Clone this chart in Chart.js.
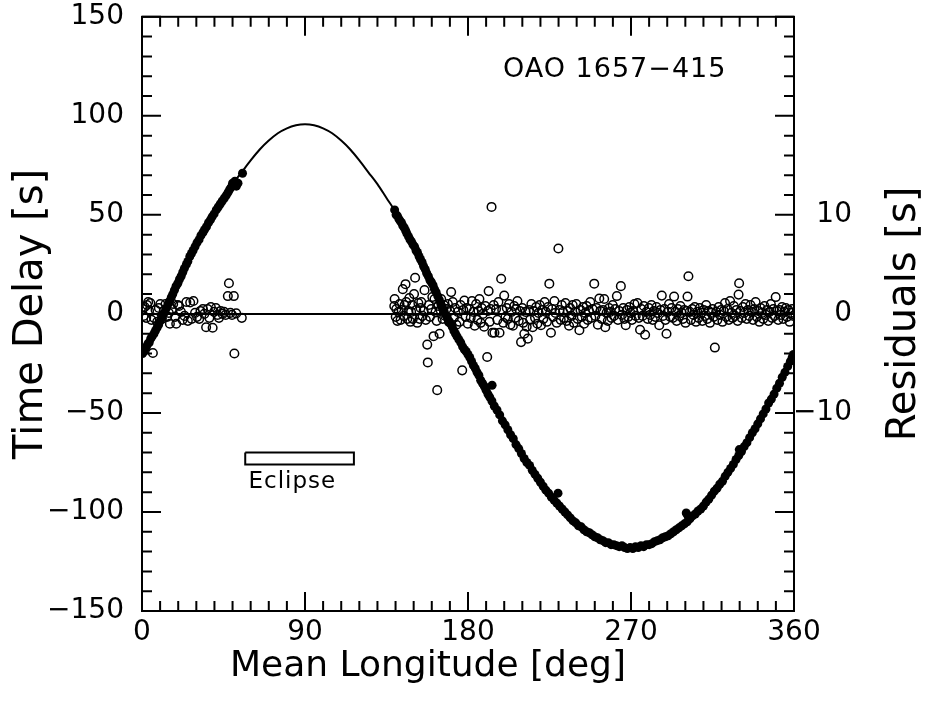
<!DOCTYPE html>
<html>
<head>
<meta charset="utf-8">
<script src="https://cdn.jsdelivr.net/npm/chart.js@4.4.1/dist/chart.umd.min.js"></script>
<style>
  html, body { margin: 0; padding: 0; background: #fff; }
  #wrap { width: 927px; height: 703px; }
</style>
</head>
<body>
<div id="wrap"><canvas id="delayChart" width="927" height="703"></canvas></div>
<script>
// orbit fit (model curve), mean longitude in deg -> time delay in s
const modelLon = [0, 10, 20, 30, 40, 45, 50, 55, 60, 65, 70, 75, 80, 85, 90, 95, 100, 105, 110, 115, 120,
  125, 130, 135, 140, 150, 160, 170, 180, 190, 200, 210, 220, 230, 240, 250, 260, 270, 280, 290, 300,
  310, 320, 330, 340, 350, 360];
const modelDelay = [-20, -3, 16, 35, 51.5, 58.5, 65.5, 71.5, 77.5, 83, 87.5, 91.2, 93.7, 95.2, 95.7, 95.2,
  93.7, 91.2, 87.5, 83, 77.5, 71.5, 65.5, 58.5, 51.5, 35, 16, -3, -20, -38.5, -55.5, -71, -85, -97, -106,
  -112.5, -116.5, -118, -116.5, -112.5, -106, -97, -85, -71, -55.5, -38.5, -20];

// measured pulse arrival delays [lon, delay]
const delayPoints = [
  [0.3,-20],[1.0,-19],[1.8,-17.5],[2.5,-16.5],[3.3,-15],[4.0,-14.5],[4.8,-12.5],[5.5,-11.5],[6.6,-10],[7.4,-8.5],
  [8.3,-7],[9.2,-5.5],[10.1,-3.5],[11.0,-2],[11.9,0],[12.6,1],[13.5,3],[14.4,5],[15.3,6.5],[16.2,8.5],
  [17.0,10],[17.9,12],[18.8,14],[19.8,15.5],[20.7,17.5],[21.6,19],[22.5,21],[23.4,23],[24.5,25],[25.3,26.5],
  [26.4,29],[27.3,30.5],[28.2,32],[29.3,34],[30.4,36],[31.5,37.5],[32.5,39.5],[33.6,41],[34.5,42.5],[35.6,44],
  [36.7,46],[37.8,47.5],[38.7,49],[39.8,50.5],[41.0,52.5],[42.1,54],[43.2,55.5],[44.3,57],[45.5,58.5],[46.6,60],
  [47.6,61.5],[48.5,63],[49.3,64],[50.0,66],[50.6,65],[51.3,67],[52.1,64.5],[53.0,66],[55.5,71],
  [139.5,52.5],[140.3,50],[141.0,49.5],[141.8,48],[142.5,47],[143.3,46],[144.0,44.5],[144.8,43.5],[145.6,42],[146.3,40.5],
  [147.2,39],[148.0,37.5],[148.8,36.5],[149.6,35],[150.5,34],[151.3,32],[152.1,31],[153.0,29],[153.8,27.5],[154.7,26],
  [155.5,24],[156.4,22.5],[157.2,20.5],[158.1,19],[159.0,17],[159.8,16],[160.7,14.5],[161.5,12.5],[162.4,11],[163.3,9],
  [164.2,7],[165.0,5],[165.9,3.5],[166.8,1.5],[167.7,-0.5],[168.6,-2],[169.5,-4],[170.4,-5],[171.3,-6.5],[172.2,-8.5],
  [173.1,-10],[174.0,-11.5],[175.0,-13],[176.0,-14.5],[177.0,-16.5],[178.0,-18],[179.0,-19],[180.0,-20.5],[181.0,-22],[182.0,-24],
  [183.0,-26],[184.0,-27.5],[185.0,-29.5],[186.0,-31],[187.0,-33.5],[188.0,-35],[189.0,-36.5],[190.0,-38.5],[191.0,-40.5],[192.0,-42],
  [193.3,-36],[193.2,-44],[194.5,-46.5],[196.0,-48.5],[197.5,-51],[199.0,-54],[200.5,-56],[202.0,-58.5],[203.5,-61],[205.0,-63],
  [206.5,-66],[208.0,-68],[209.5,-70.5],[211.0,-73],[212.5,-75],[214.0,-76.5],[215.5,-79],[217.0,-81],[218.5,-83],[220.0,-85],
  [221.5,-87],[223.0,-89],[224.5,-90.5],[226.0,-92.5],[227.5,-94],[229.0,-95.5],[229.7,-90.5],[230.5,-97],[232.0,-98.5],[233.5,-100],
  [235.0,-101.5],[236.5,-103],[238.0,-104.5],[239.5,-105.5],[241.0,-107],[242.5,-107.5],[244.0,-109],[245.5,-110],[247.0,-110.5],[248.5,-111.5],
  [250.0,-112.5],[251.5,-113],[253.0,-114],[254.5,-114.5],[256.0,-115.5],[257.5,-115.5],[259.0,-116.5],[260.5,-116.5],[262.0,-117],[263.5,-117.5],
  [265.0,-117],[266.5,-118],[268.0,-118.5],[269.5,-118],[271.0,-118.5],[272.5,-117.5],[274.0,-118],[275.5,-117],[277.0,-117.5],[278.5,-116.5],
  [280.0,-116.5],[281.5,-116],[283.0,-115],[284.5,-114.5],[286.0,-114],[287.5,-113],[289.0,-112.5],[290.5,-112],[292.0,-111],[293.5,-110],
  [295.0,-109],[296.5,-108],[298.0,-107],[299.5,-106],[300.5,-100.5],[301.0,-105],[301.5,-102],[302.5,-103.5],[304.0,-102],[305.5,-101],
  [307.0,-99.5],[308.5,-98.5],[310.0,-97],[311.5,-95],[313.0,-93.5],[314.5,-91.5],[316.0,-89.5],[317.5,-88],[319.0,-86],[320.5,-84.5],
  [322.0,-82],[323.5,-80],[325.0,-78],[326.5,-76],[328.0,-73.5],[329.5,-71.5],[329.8,-68.5],[331.0,-69.5],[332.5,-67],[334.0,-65],
  [335.5,-62.5],[337.0,-60],[338.5,-58],[340.0,-55.5],[341.5,-53],[343.0,-50.5],[344.5,-48],[346.0,-45],[347.5,-43],[349.0,-40.5],
  [350.5,-37.5],[352.0,-35],[353.5,-32],[355.0,-29.5],[356.5,-26.5],[358.0,-24],[359.0,-22],[359.7,-20.5]
];

// residuals after the fit [lon, residual s] (right axis)
const residualPoints = [
  [0.4,0.5],[0.9,-0.2],[1.5,0.7],[2.3,-0.4],[2.8,0.9],[3.4,1.2],[3.9,0.3],[4.6,1.1],[5.2,-0.6],[6.0,-3.95],
  [6.6,-0.4],[7.5,0.4],[8.4,-0.8],[9.3,0.6],[10.1,1.0],[11.0,-0.5],[12.0,0.3],[13.0,1.0],[13.9,-0.3],[14.8,0.1],
  [15.4,-1.0],[16.5,0.5],[17.2,1.0],[18.3,-0.3],[18.9,-1.0],[19.8,0.9],[20.5,0.8],[21.5,0.2],[22.4,-0.6],[23.5,-0.2],
  [24.5,1.2],[25.3,-0.7],[26.6,1.15],[27.4,-0.5],[28.4,1.3],[29.3,0.1],[30.4,-0.3],[31.6,-0.5],[32.3,0.3],[33.6,0.5],
  [34.4,0],[35.4,-1.35],[36.2,0.5],[37.2,-0.4],[38.0,0.7],[39.0,-1.4],[39.8,0.2],[40.8,0.6],[41.7,-0.1],[42.5,-0.4],
  [43.4,0.3],[44.5,0],[45.3,0.2],[46.2,-0.1],[47.4,1.8],[48.0,3.1],[48.8,0.1],[49.7,-0.1],[50.7,1.8],[51.0,-4.0],
  [52.0,0.05],[55.1,-0.4],
  [139.3,0.8],[139.5,1.5],[140.1,-0.3],[140.4,0.5],[141.0,-0.7],[141.6,0.2],[142.2,1.0],[142.8,-0.6],[143.4,0.4],[144.0,2.5],
  [144.5,-0.2],[145.0,0.9],[145.5,3.0],[145.9,1.2],[146.5,-0.5],[147.1,0.3],[147.6,1.6],[148.2,-0.8],[148.6,0.2],[149.2,0.9],
  [149.5,-0.5],[150.2,2.0],[150.8,3.65],[151.4,0.4],[152.0,-0.9],[152.6,1.1],[153.3,-0.5],[153.8,0.6],[154.2,1.2],[154.9,-0.2],
  [155.5,0.3],[156.0,2.4],[156.7,-0.6],[157.5,-3.1],[157.8,-4.9],[158.4,0.9],[159.0,-0.3],[159.7,0.5],[160.3,1.7],[161.0,-2.25],
  [161.5,1.5],[162.1,0.2],[162.7,-0.7],[163.0,-7.7],[163.6,0.8],[164.3,-2.0],[164.8,0.4],[165.2,1.5],[166.0,-0.5],[166.7,0.9],
  [167.4,-0.2],[168.1,0.5],[168.9,1.0],[169.5,-0.8],[170.1,0.3],[170.7,2.2],[171.6,1.2],[172.2,-0.4],[172.9,0.6],[173.6,-1.1],
  [174.4,0.2],[175.3,-0.8],[175.9,0.9],[176.8,-5.7],[177.4,0.4],[178.0,1.35],[178.7,-0.3],[179.3,0.6],[179.9,-1.0],[180.8,0.5],
  [181.5,-0.4],[182.2,1.3],[183.0,0.2],[183.7,-1.2],[184.5,1.0],[185.2,-0.6],[185.8,0.3],[186.3,1.5],[187.0,-0.9],[187.6,0.6],
  [188.2,0],[188.9,-1.3],[189.6,0.8],[190.6,-4.35],[191.0,0.3],[191.4,2.3],[191.9,-0.8],[192.5,0.5],[193.0,10.8],[193.5,-1.9],
  [194.2,0.9],[194.6,-1.9],[195.5,0.5],[196.2,-0.6],[196.8,1.2],[197.4,-1.9],[198.3,3.55],[198.9,0.4],[199.5,-0.9],[200.0,1.85],
  [200.7,-0.3],[201.4,0.6],[202.0,-0.5],[202.7,1.0],[203.4,-1.1],[204.0,0.2],[204.8,-1.2],[205.5,0.8],[206.1,-0.4],[206.6,0.5],
  [207.3,1.3],[208.0,-0.7],[208.6,0.3],[209.3,-2.85],[210.0,0.6],[210.5,-0.9],[211.1,-2.0],[211.8,0.2],[212.4,-1.3],[213.0,-2.5],
  [213.7,0.4],[214.3,-0.6],[215.0,1.0],[215.7,-1.35],[216.3,0.3],[217.0,-0.4],[217.6,0.7],[218.3,-1.0],[219.0,0.1],[219.6,0.9],
  [220.3,-1.15],[221.0,0.4],[221.6,-0.5],[222.3,1.2],[223.0,0.2],[223.6,-0.8],[224.2,0.7],[224.9,3.05],[225.8,-1.9],[226.4,0.5],
  [227.0,-0.3],[227.7,1.3],[228.3,0.1],[229.0,-0.9],[229.9,6.6],[230.5,0.4],[231.2,-0.6],[231.8,0.9],[232.5,0.2],[233.1,-0.4],
  [233.8,1.1],[234.5,-0.7],[235.1,0.3],[235.8,-1.2],[236.4,0.6],[237.1,-0.2],[237.8,0.9],[238.4,-0.9],[239.1,0.2],[239.8,1.0],
  [240.5,-0.5],[241.5,-1.65],[242.1,0.4],[242.8,-0.3],[243.5,0.7],[244.1,-1.0],[244.8,0.1],[245.5,0.8],[246.1,-0.6],[246.8,0.3],
  [247.5,1.2],[248.1,-0.4],[248.8,0.5],[249.7,3.05],[250.3,-0.2],[251.0,0.6],[251.7,-1.1],[252.5,1.55],[253.1,0.3],[253.8,-0.5],
  [254.5,0.4],[255.2,1.5],[255.8,-1.35],[256.5,0.1],[257.2,-0.7],[257.9,0.6],[258.5,0.2],[259.2,-0.4],[259.9,0.9],[260.6,-0.2],
  [261.3,0.5],[262.2,1.8],[262.8,-0.6],[263.5,0.3],[264.4,2.8],[265.0,-0.1],[265.7,0.6],[266.4,-0.5],[267.1,-1.15],[267.8,0.4],
  [268.5,-0.3],[269.1,0.7],[269.8,0.1],[270.5,-0.6],[271.2,0.3],[271.9,1.0],[272.6,-0.2],[273.6,1.1],[274.3,-0.4],[275.0,-1.6],
  [275.7,0.5],[276.4,-0.2],[277.1,0.8],[277.8,-2.1],[278.5,0.2],[279.2,-0.5],[279.9,0.6],[280.6,-0.1],[281.3,0.9],[282.0,-0.6],
  [282.7,0.3],[283.4,-0.3],[284.1,0.7],[284.8,0.1],[285.6,-1.15],[286.3,0.4],[287.0,1.85],[287.7,-0.2],[288.4,0.5],[289.0,-0.6],
  [289.6,-2.0],[290.3,0.2],[291.0,1.0],[291.7,-0.3],[292.4,0.6],[293.1,-0.4],[293.8,1.75],[294.5,0.2],[295.2,-0.7],[295.9,0.5],
  [296.6,-0.2],[297.3,0.8],[298.0,0.1],[298.7,-0.5],[299.4,0.4],[300.1,-0.9],[300.7,0.3],[301.2,1.75],[301.7,3.8],[302.4,0.2],
  [303.1,-0.6],[303.8,0.5],[304.5,-0.1],[305.2,0.7],[305.9,-0.8],[306.6,0.2],[307.3,-0.4],[308.0,0.6],[308.7,0.1],[309.4,-0.7],
  [310.1,0.4],[310.8,-0.2],[311.5,0.9],[312.2,-0.5],[312.9,0.3],[313.6,-0.9],[314.3,0.1],[315.0,0.5],[315.7,-0.3],[316.3,-3.4],
  [317.0,0.2],[317.7,-0.6],[318.4,0.7],[319.1,-0.1],[319.8,0.4],[320.5,-0.8],[321.2,0.3],[321.9,1.1],[322.6,-0.3],[323.3,0.5],
  [324.0,-0.6],[324.7,1.3],[325.4,0.1],[326.1,-0.4],[326.8,0.8],[327.5,-0.2],[328.2,0.4],[328.9,-0.7],[329.4,1.95],[329.7,3.1],
  [330.4,0.3],[331.1,-0.4],[331.8,0.7],[332.5,0.1],[333.2,1.0],[333.9,-0.5],[334.6,0.4],[335.3,-0.2],[336.0,0.9],[336.7,0.2],
  [337.4,-0.6],[338.1,0.5],[338.8,1.2],[339.5,-0.3],[340.2,0.3],[340.9,-0.8],[341.6,0.6],[342.3,0.1],[343.0,-0.5],[343.7,0.8],
  [344.4,-0.1],[345.1,0.4],[345.8,-0.7],[346.5,0.2],[347.2,1.0],[347.9,-0.4],[348.6,0.5],[349.3,-0.2],[349.9,1.7],[350.6,0.3],
  [351.3,-0.6],[352.0,0.4],[352.7,-0.1],[353.4,0.7],[354.1,-0.5],[354.8,0.2],[355.5,0.6],[356.2,-0.3],[356.9,0.4],[357.6,-0.8],
  [358.3,0.1],[359.0,0.5],[359.6,-0.2]
];

// eclipse interval (deg) and where its bar sits on the delay axis
const eclipseLon = [57, 117];
const eclipseBar = [-70, -76];
const eclipseLabel = 'Eclipse';
const sourceName = 'OAO 1657\u2212415';

const FONT = 'DejaVu Sans';
Chart.defaults.font.family = FONT;
Chart.defaults.color = '#000';

const minus = (v) => (v < 0 ? '\u2212' + Math.abs(v) : String(v));

// box, inward ticks and the text that Chart.js can't place for us
const frameTicks = {
  id: 'frameTicks',
  afterDatasetsDraw(chart) {
    const { ctx, chartArea: a, scales: { x, y } } = chart;
    ctx.save();
    ctx.strokeStyle = '#000';
    ctx.lineWidth = 2;
    ctx.strokeRect(a.left, a.top, a.right - a.left, a.bottom - a.top);
    ctx.beginPath();
    for (let v = 0; v <= 360; v += 10) {
      const px = x.getPixelForValue(v);
      const len = v % 90 === 0 ? 19 : 10;
      ctx.moveTo(px, a.bottom); ctx.lineTo(px, a.bottom - len);
      ctx.moveTo(px, a.top); ctx.lineTo(px, a.top + len);
    }
    for (let v = -150; v <= 150; v += 10) {
      const py = y.getPixelForValue(v);
      const len = v % 50 === 0 ? 19 : 10;
      ctx.moveTo(a.left, py); ctx.lineTo(a.left + len, py);
      ctx.moveTo(a.right, py); ctx.lineTo(a.right - len, py);
    }
    ctx.stroke();

    ctx.fillStyle = '#000';
    ctx.textAlign = 'center';
    ctx.textBaseline = 'middle';
    ctx.letterSpacing = '1px';
    ctx.font = '27px "' + FONT + '"';
    ctx.fillText(sourceName, x.getPixelForValue(261), y.getPixelForValue(123));
    ctx.font = '23px "' + FONT + '"';
    ctx.fillText(eclipseLabel, x.getPixelForValue(83), y.getPixelForValue(-85));
    ctx.letterSpacing = '0px';

    // x title sits a little left of the plot centre in the original
    ctx.font = '36px "' + FONT + '"';
    ctx.fillText('Mean Longitude [deg]', 428, 667);

    // right axis title reads bottom to top like the left one
    ctx.translate(905, (a.top + a.bottom) / 2);
    ctx.rotate(-Math.PI / 2);
    ctx.font = '40px "' + FONT + '"';
    ctx.fillText('Residuals [s]', 0, 0);
    ctx.restore();
  }
};

const ctx = document.getElementById('delayChart').getContext('2d');
new Chart(ctx, {
  type: 'scatter',
  data: {
    datasets: [
      {
        label: 'fit',
        data: modelLon.map((lon, i) => ({ x: lon, y: modelDelay[i] })),
        showLine: true,
        cubicInterpolationMode: 'monotone',
        borderColor: '#000',
        borderWidth: 2,
        pointRadius: 0,
        yAxisID: 'y',
        order: 3
      },
      {
        label: 'zero',
        data: [{ x: 0, y: 0 }, { x: 360, y: 0 }],
        showLine: true,
        borderColor: '#000',
        borderWidth: 2,
        pointRadius: 0,
        yAxisID: 'y2',
        order: 4
      },
      {
        label: 'eclipse',
        data: [
          { x: eclipseLon[0], y: eclipseBar[0] }, { x: eclipseLon[1], y: eclipseBar[0] },
          { x: eclipseLon[1], y: eclipseBar[1] }, { x: eclipseLon[0], y: eclipseBar[1] },
          { x: eclipseLon[0], y: eclipseBar[0] }
        ],
        showLine: true,
        borderColor: '#000',
        borderWidth: 2,
        pointRadius: 0,
        yAxisID: 'y',
        order: 5
      },
      {
        label: 'residuals',
        data: residualPoints.map(([lon, r]) => ({ x: lon, y: r })),
        pointRadius: 4.3,
        pointBorderWidth: 1.5,
        pointBackgroundColor: 'rgba(0,0,0,0)',
        pointBorderColor: '#000',
        yAxisID: 'y2',
        order: 2
      },
      {
        label: 'delay',
        data: delayPoints.map(([lon, d]) => ({ x: lon, y: d })),
        pointRadius: 4.5,
        pointBorderWidth: 0,
        pointBackgroundColor: '#000',
        yAxisID: 'y',
        order: 1
      }
    ]
  },
  options: {
    responsive: false,
    animation: false,
    layout: { padding: { top: 16, right: 75, left: 0, bottom: 0 } },
    plugins: { legend: { display: false }, tooltip: { enabled: false } },
    scales: {
      x: {
        type: 'linear',
        position: 'bottom',
        min: 0,
        max: 360,
        afterFit: (s) => { s.height = 92; },
        grid: { display: false, drawTicks: true, tickLength: 5 },
        border: { display: false },
        ticks: { stepSize: 90, padding: 0, font: { size: 28 } }
      },
      y: {
        position: 'left',
        min: -150,
        max: 150,
        afterFit: (s) => { s.width = 142; },
        // tick marks are drawn by the plugin; tickLength only spaces the labels
        grid: { display: false, drawTicks: true, tickLength: 18 },
        border: { display: false },
        ticks: { stepSize: 50, padding: 0, font: { size: 28 }, callback: minus },
        title: {
          display: true,
          text: 'Time Delay [s]',
          font: { size: 40 },
          padding: { top: 8, bottom: 0 }
        }
      },
      y2: {
        position: 'right',
        min: -30,
        max: 30,
        afterFit: (s) => { s.width = 58; },
        grid: { display: false, drawTicks: false },
        border: { display: false },
        ticks: {
          stepSize: 10,
          crossAlign: 'far',
          padding: 0,
          font: { size: 28 },
          callback: (v) => (Math.abs(v) <= 10 ? minus(v) : null)
        }
      }
    }
  },
  plugins: [frameTicks]
});
</script>
</body>
</html>
